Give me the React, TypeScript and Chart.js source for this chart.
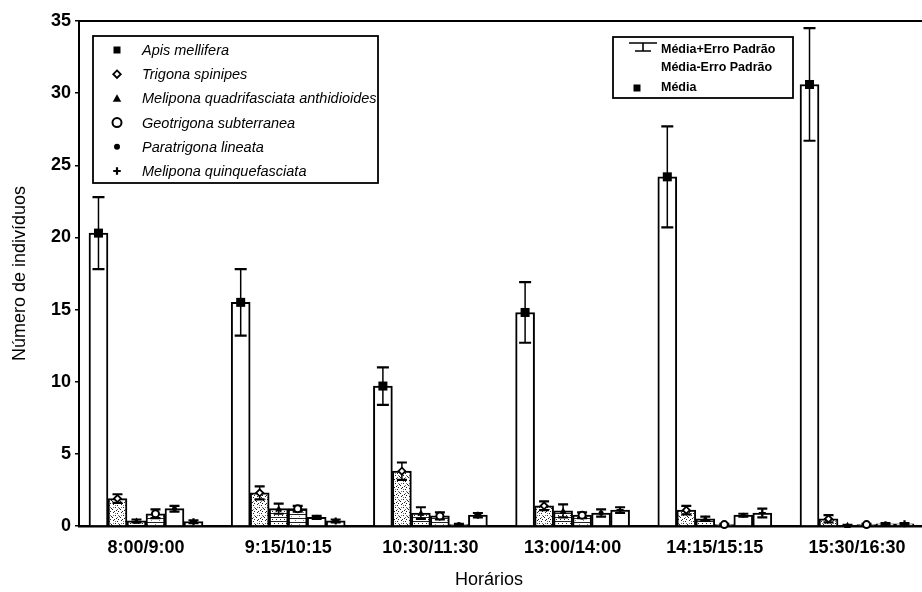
import React, { useEffect, useRef } from 'react';
import { Chart, registerables } from 'chart.js';
Chart.register(...registerables);

const categories = ['8:00/9:00', '9:15/10:15', '10:30/11:30', '13:00/14:00', '14:15/15:15', '15:30/16:30'];
const species = [
  'Apis mellifera',
  'Trigona spinipes',
  'Melipona quadrifasciata anthidioides',
  'Geotrigona subterranea',
  'Paratrigona lineata',
  'Melipona quinquefasciata',
];
const apisMean = [20.3, 15.5, 9.7, 14.8, 24.2, 30.6];
const apisErr = [2.5, 2.3, 1.3, 2.1, 3.5, 3.9];
const trigonaMean = [1.9, 2.3, 3.8, 1.4, 1.1, 0.5];
const trigonaErr = [0.3, 0.45, 0.6, 0.3, 0.3, 0.25];
const melQuadMean = [0.35, 1.2, 0.9, 1.05, 0.5, 0.05];
const melQuadErr = [0.1, 0.35, 0.4, 0.45, 0.15, 0.03];
const geoMean = [0.85, 1.2, 0.7, 0.75, 0.1, 0.1];
const geoErr = [0.3, 0.2, 0.25, 0.2, 0.05, 0.05];
const paraMean = [1.2, 0.6, 0.1, 0.9, 0.75, 0.15];
const paraErr = [0.2, 0.1, 0.05, 0.25, 0.1, 0.05];
const quinqMean = [0.3, 0.35, 0.75, 1.1, 0.9, 0.15];
const quinqErr = [0.1, 0.1, 0.15, 0.2, 0.3, 0.05];
const yTicks = [0, 5, 10, 15, 20, 25, 30, 35];
const errLegend = ['Média+Erro Padrão', 'Média-Erro Padrão'];
const meanLegend = 'Média';
const xTitle = 'Horários';
const yTitle = 'Número de indivíduos';

const means = [apisMean, trigonaMean, melQuadMean, geoMean, paraMean, quinqMean];
const errs = [apisErr, trigonaErr, melQuadErr, geoErr, paraErr, quinqErr];
const markerKinds = ['square', 'diamond', 'triangle', 'circle', 'dot', 'plus'];
const FF = '"Liberation Sans", Arial, Helvetica, sans-serif';

function makePattern(kind: string): any {
  const c = document.createElement('canvas');
  c.width = 8;
  c.height = 8;
  const g = c.getContext('2d')!;
  g.fillStyle = '#fff';
  g.fillRect(0, 0, 8, 8);
  g.fillStyle = '#222';
  if (kind === 'stipple') {
    const pts = [[1, 0], [5, 1], [3, 3], [7, 4], [0, 5], [4, 6], [2, 7], [6, 7]];
    pts.forEach(([x, y]) => g.fillRect(x, y, 1, 1));
    g.fillStyle = '#777';
    [[3, 1], [6, 3], [1, 3], [5, 5]].forEach(([x, y]) => g.fillRect(x, y, 1, 1));
  } else if (kind === 'brick') {
    g.fillRect(0, 1, 8, 1);
    g.fillRect(0, 5, 8, 1);
    [[2, 3], [6, 3], [0, 7], [4, 7]].forEach(([x, y]) => g.fillRect(x, y, 1, 1));
  } else if (kind === 'hlines') {
    g.fillRect(0, 2, 8, 1);
    g.fillRect(0, 6, 8, 1);
    g.fillStyle = '#888';
    [[3, 4], [7, 0]].forEach(([x, y]) => g.fillRect(x, y, 1, 1));
  }
  return g.createPattern(c, 'repeat');
}

function drawMarker(ctx: CanvasRenderingContext2D, kind: string, x: number, y: number, s: number) {
  ctx.save();
  ctx.strokeStyle = '#000';
  ctx.fillStyle = '#000';
  ctx.lineWidth = 1.8;
  const h = s / 2;
  if (kind === 'square') {
    ctx.fillRect(x - h, y - h, s, s);
  } else if (kind === 'diamond') {
    ctx.beginPath();
    ctx.moveTo(x, y - h);
    ctx.lineTo(x + h, y);
    ctx.lineTo(x, y + h);
    ctx.lineTo(x - h, y);
    ctx.closePath();
    ctx.fillStyle = '#fff';
    ctx.fill();
    ctx.stroke();
  } else if (kind === 'triangle') {
    ctx.beginPath();
    ctx.moveTo(x, y - h);
    ctx.lineTo(x + h, y + h * 0.8);
    ctx.lineTo(x - h, y + h * 0.8);
    ctx.closePath();
    ctx.fill();
  } else if (kind === 'circle') {
    ctx.beginPath();
    ctx.arc(x, y, h, 0, Math.PI * 2);
    ctx.fillStyle = '#fff';
    ctx.fill();
    ctx.lineWidth = 2;
    ctx.stroke();
  } else if (kind === 'dot') {
    ctx.beginPath();
    ctx.arc(x, y, h, 0, Math.PI * 2);
    ctx.fill();
  } else if (kind === 'plus') {
    ctx.lineWidth = 2.2;
    ctx.beginPath();
    ctx.moveTo(x - h, y);
    ctx.lineTo(x + h, y);
    ctx.moveTo(x, y - h);
    ctx.lineTo(x, y + h);
    ctx.stroke();
  }
  ctx.restore();
}

const decorPlugin = {
  id: 'decor',
  afterDatasetsDraw(chart: any) {
    const { ctx } = chart;
    const ys = chart.scales.y;
    ctx.save();
    chart.data.datasets.forEach((_ds: any, di: number) => {
      const meta = chart.getDatasetMeta(di);
      meta.data.forEach((bar: any, i: number) => {
        const m = means[di][i];
        const e = errs[di][i];
        const x = bar.x;
        const yTop = ys.getPixelForValue(m + e);
        const yBot = ys.getPixelForValue(Math.max(0, m - e));
        const cap = di === 0 ? 6 : 5;
        ctx.strokeStyle = '#000';
        ctx.lineWidth = 1.5;
        ctx.beginPath();
        ctx.moveTo(x, yTop);
        ctx.lineTo(x, yBot);
        ctx.stroke();
        ctx.lineWidth = 2.2;
        ctx.beginPath();
        ctx.moveTo(x - cap, yTop);
        ctx.lineTo(x + cap, yTop);
        ctx.moveTo(x - cap, yBot);
        ctx.lineTo(x + cap, yBot);
        ctx.stroke();
        drawMarker(ctx, markerKinds[di], x, ys.getPixelForValue(m), di === 0 ? 9 : di === 4 ? 5 : 7);
      });
    });
    ctx.restore();
  },
  afterDraw(chart: any) {
    const { ctx, chartArea: ca } = chart;
    ctx.save();
    // top frame line
    ctx.strokeStyle = '#000';
    ctx.lineWidth = 2;
    ctx.beginPath();
    ctx.moveTo(ca.left, ca.top);
    ctx.lineTo(ca.right, ca.top);
    ctx.stroke();

    // x axis title
    ctx.fillStyle = '#000';
    ctx.font = `18px ${FF}`;
    ctx.textAlign = 'center';
    ctx.textBaseline = 'middle';
    ctx.fillText(xTitle, ca.left + 410, ca.bottom + 54);

    // species legend
    const lx = ca.left + 14;
    const ly = ca.top + 15;
    const lw = 285;
    const lh = 147;
    ctx.fillStyle = '#fff';
    ctx.fillRect(lx, ly, lw, lh);
    ctx.lineWidth = 1.8;
    ctx.strokeRect(lx, ly, lw, lh);
    ctx.font = `italic 14.5px ${FF}`;
    ctx.textBaseline = 'middle';
    ctx.textAlign = 'left';
    species.forEach((name, i) => {
      const ry = ly + 14 + i * 24.2;
      const s = i === 0 ? 7 : i === 3 ? 9 : i === 4 ? 6 : i === 2 ? 8.5 : 7.5;
      drawMarker(ctx, markerKinds[i], lx + 24, ry, s);
      ctx.fillStyle = '#000';
      ctx.fillText(name, lx + 49, ry + 1);
    });

    // statistics legend
    const rx = ca.left + 534;
    const ry0 = ca.top + 16;
    ctx.fillStyle = '#fff';
    ctx.fillRect(rx, ry0, 180, 61);
    ctx.lineWidth = 1.8;
    ctx.strokeRect(rx, ry0, 180, 61);
    ctx.lineWidth = 1.6;
    ctx.beginPath();
    ctx.moveTo(rx + 16, ry0 + 6);
    ctx.lineTo(rx + 44, ry0 + 6);
    ctx.moveTo(rx + 30, ry0 + 6);
    ctx.lineTo(rx + 30, ry0 + 14);
    ctx.moveTo(rx + 22, ry0 + 14);
    ctx.lineTo(rx + 38, ry0 + 14);
    ctx.stroke();
    ctx.font = `bold 12.5px ${FF}`;
    ctx.fillStyle = '#000';
    ctx.fillText(errLegend[0], rx + 48, ry0 + 13);
    ctx.fillText(errLegend[1], rx + 48, ry0 + 31);
    drawMarker(ctx, 'square', rx + 24, ry0 + 51, 7);
    ctx.fillStyle = '#000';
    ctx.fillText(meanLegend, rx + 48, ry0 + 51);
    ctx.restore();
  },
};

export default function App() {
  const ref = useRef<HTMLCanvasElement>(null);
  useEffect(() => {
    const canvas = ref.current!;
    const fills = ['#fff', makePattern('stipple'), makePattern('brick'), makePattern('hlines'), '#fff', '#fff'];
    const chart = new Chart(canvas, {
      type: 'bar',
      data: {
        datasets: species.map((name, di) => ({
          label: name,
          data: means[di].map((v, i) => ({ x: i, y: v })),
          backgroundColor: fills[di],
          borderColor: '#000',
          borderWidth: 2,
          barThickness: 19,
        })),
      },
      options: {
        animation: false,
        responsive: false,
        maintainAspectRatio: false,
        layout: { padding: { top: 21, right: 0, left: 0, bottom: 0 } },
        plugins: { legend: { display: false }, tooltip: { enabled: false } },
        scales: {
          x: {
            type: 'linear',
            min: -0.471,
            max: 5.457,
            offset: false,
            afterBuildTicks: (s: any) => {
              s.ticks = categories.map((_, i) => ({ value: i }));
            },
            afterFit: (s: any) => {
              s.height = 66;
            },
            grid: { display: false, drawTicks: false, offset: false },
            border: { display: true, color: '#000', width: 2.5 },
            ticks: {
              callback: (v: any) => categories[v] ?? '',
              font: { family: FF, size: 18, weight: 'bold' },
              color: '#000',
              padding: 11,
              maxRotation: 0,
              autoSkip: false,
            },
            title: { display: false },
          },
          y: {
            min: 0,
            max: 35,
            afterBuildTicks: (s: any) => {
              s.ticks = yTicks.map((v) => ({ value: v }));
            },
            afterFit: (s: any) => {
              s.width = 79;
            },
            grid: { drawOnChartArea: false, drawTicks: true, tickLength: 4, color: '#000', lineWidth: 1.5 },
            border: { display: true, color: '#000', width: 2 },
            ticks: {
              font: { family: FF, size: 18, weight: 'bold' },
              color: '#000',
              padding: 4,
            },
            title: {
              display: true,
              text: yTitle,
              font: { family: FF, size: 18 },
              color: '#000',
              padding: { top: 9, bottom: 0 },
            },
          },
        },
      } as any,
      plugins: [decorPlugin],
    });
    return () => chart.destroy();
  }, []);
  return (
    <div style={{ position: 'absolute', left: 0, top: 0, width: 922, height: 592, background: '#fff' }}>
      <canvas ref={ref} width={922} height={592} style={{ display: 'block', width: 922, height: 592 }} />
    </div>
  );
}
